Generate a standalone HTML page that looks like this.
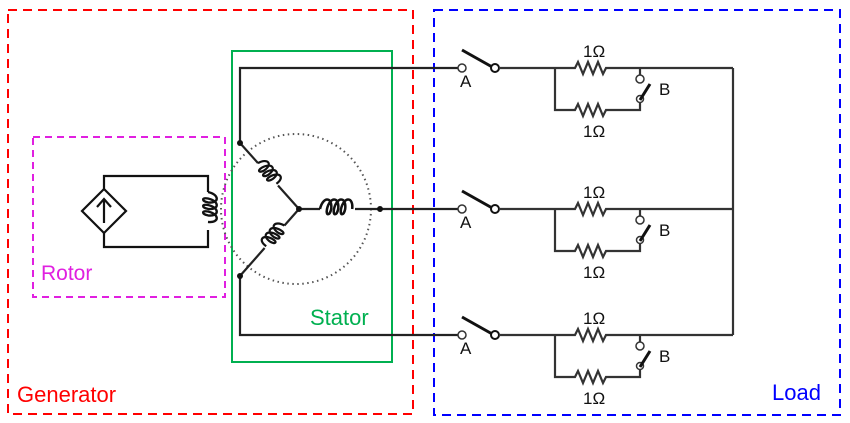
<!DOCTYPE html>
<html><head><meta charset="utf-8"><style>
html,body{margin:0;padding:0;background:#fff}
svg{display:block}
text{font-family:"Liberation Sans",sans-serif}
</style></head><body>
<svg width="850" height="423" viewBox="0 0 850 423" xmlns="http://www.w3.org/2000/svg">
<defs>
<path id="coil" d="M0,0 c2,-9 9,-9 8,0 c-1,5 -4,5 -3,0 c2,-9 9,-9 8,0 c-1,5 -4,5 -3,0 c2,-9 9,-9 8,0 c-1,5 -4,5 -3,0 c2,-9 9,-9 8,0" fill="none" stroke="#111" stroke-width="1.8"/>
<g id="phase" fill="none" stroke="#333" stroke-width="2.2">
  <circle cx="462" cy="0" r="4" fill="#fff" stroke-width="1.5"/>
  <line x1="462" y1="-18" x2="494" y2="0" stroke="#111" stroke-width="3"/>
  <circle cx="495" cy="0" r="4" fill="#fff" stroke="#111" stroke-width="2"/>
  <path d="M499,0 H575 l3,-6 l5,12 l5,-12 l5,12 l5,-12 l5,12 l3,-6 H733"/>
  <path d="M555,0 V42 H575 l3,-6 l5,12 l5,-12 l5,12 l5,-12 l5,12 l3,-6 H640 V34"/>
  <line x1="640" y1="0" x2="640" y2="7" />
  <circle cx="640" cy="11" r="4" fill="#fff" stroke-width="1.5"/>
  <circle cx="640" cy="31" r="3.5" fill="#fff" stroke-width="1.5"/>
  <line x1="640" y1="32" x2="650" y2="16" stroke="#111" stroke-width="3"/>
  <g stroke="none" fill="#111" font-size="17">
    <text x="460" y="19">A</text>
    <text x="583" y="-11">1Ω</text>
    <text x="583" y="69">1Ω</text>
    <text x="659" y="27">B</text>
  </g>
</g>
</defs>

<!-- boxes -->
<rect x="8" y="10" width="405" height="404" fill="none" stroke="#f00" stroke-width="2" stroke-dasharray="9,6"/>
<rect x="434" y="10" width="406" height="405" fill="none" stroke="#00f" stroke-width="2" stroke-dasharray="9,6"/>
<rect x="33" y="137" width="192" height="160" fill="none" stroke="#e020e0" stroke-width="2" stroke-dasharray="7,5"/>
<rect x="232" y="51" width="160" height="311" fill="none" stroke="#00b050" stroke-width="2"/>

<!-- rotor -->
<g fill="none" stroke="#111" stroke-width="2.2">
  <path d="M104,189 V176 H208 V192"/>
  <path d="M104,233 V247 H208 V230"/>
  <polygon points="104,189 126,211 104,233 82,211" fill="#fff"/>
  <path d="M104,223 V200 M97,207 L104,199 L111,207"/>
</g>
<use href="#coil" transform="translate(208,192) rotate(90) scale(1.3)"/>
<!-- stator -->
<circle cx="296" cy="209" r="75" fill="none" stroke="#555" stroke-width="2" stroke-dasharray="1.5,3.5"/>
<g fill="none" stroke="#222" stroke-width="2.2">
  <path d="M460,68 H240 V143"/>
  <path d="M240,276 V335 H460"/>
  <path d="M299,209 H320 M355,209 H460"/>
</g>
<g transform="translate(240,143) rotate(48.2)">
  <path d="M0,0 H27 M57,0 H88.5" stroke="#222" stroke-width="2.2"/>
  <use href="#coil" transform="translate(27,0) scale(1.2)"/>
</g>
<g transform="translate(299,209) rotate(131.4)">
  <path d="M0,0 H22 M52,0 H89" stroke="#222" stroke-width="2.2"/>
  <use href="#coil" transform="translate(22,0) scale(1.2,-1.2)"/>
</g>
<use href="#coil" transform="translate(320,209) scale(1.4)"/>
<circle cx="240" cy="143" r="3" fill="#111"/>
<circle cx="240" cy="276" r="3" fill="#111"/>
<circle cx="299" cy="209" r="3" fill="#111"/>
<circle cx="380" cy="209" r="3" fill="#111"/>

<!-- right bus -->
<line x1="733" y1="68" x2="733" y2="335" stroke="#333" stroke-width="2.2"/>

<use href="#phase" transform="translate(0,68)"/>
<use href="#phase" transform="translate(0,209)"/>
<use href="#phase" transform="translate(0,335)"/>

<text x="41" y="280" font-size="21" fill="#e020e0">Rotor</text>
<text x="310" y="325" font-size="22" fill="#00b050">Stator</text>
<text x="17" y="402" font-size="22" fill="#f00">Generator</text>
<text x="772" y="400" font-size="22" fill="#00f">Load</text>
</svg>
</body></html>
